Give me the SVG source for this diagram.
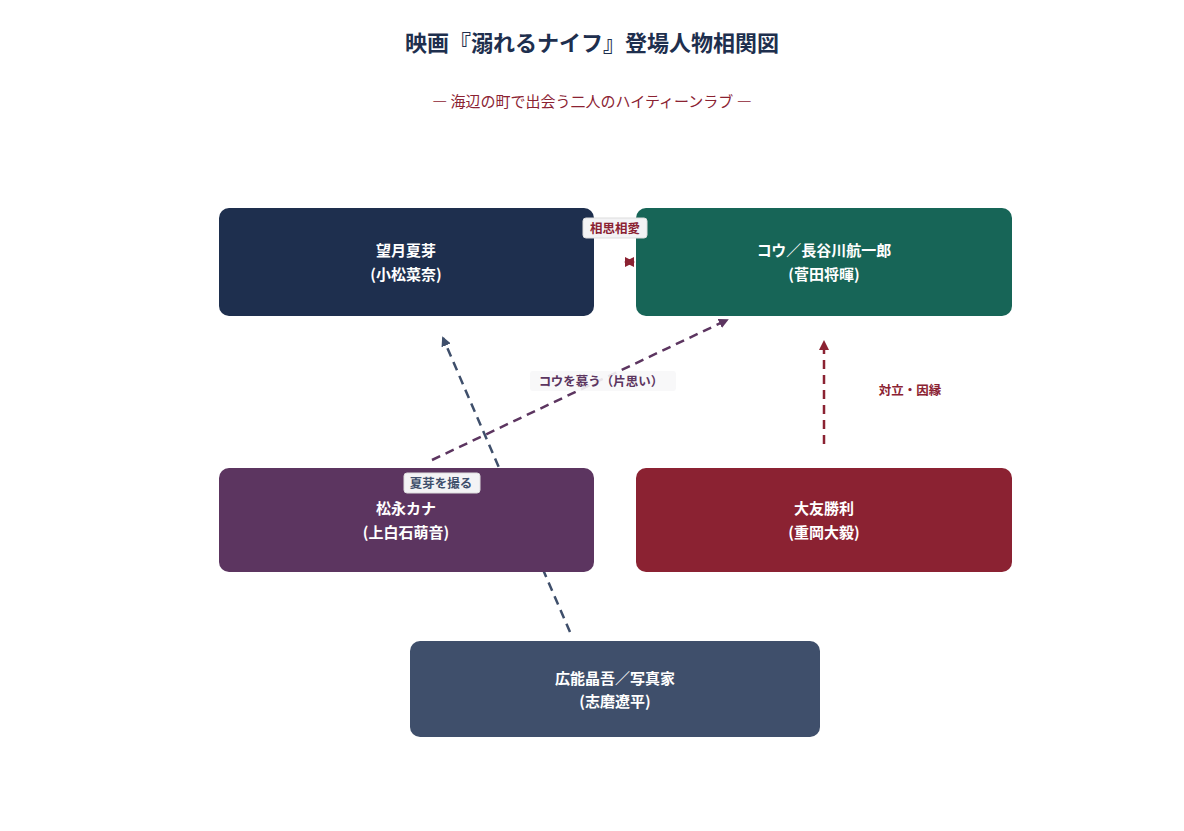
<svg xmlns="http://www.w3.org/2000/svg" width="1184" height="831" viewBox="0 0 1184 831">
<style>
text{font-family:"Noto Sans CJK JP","Noto Sans",sans-serif}
.t{font-size:22px;font-weight:bold;fill:#1e2f4e;text-anchor:middle}
.st{font-size:15px;fill:#8b2232;text-anchor:middle}
.n{font-size:15px;font-weight:bold;fill:#fff;text-anchor:middle}
.l{font-size:12.5px;font-weight:bold;text-anchor:middle}
.lb{fill:#f3f3f5;stroke:#ddd;stroke-width:1}
</style>
<defs>
<marker id="aN" viewBox="0 0 10 10" refX="8" refY="5" markerWidth="4" markerHeight="4" orient="auto-start-reverse"><path d="M0,0L10,5L0,10Z" fill="#3f4f6b"/></marker>
<marker id="aP" viewBox="0 0 10 10" refX="8" refY="5" markerWidth="4" markerHeight="4" orient="auto-start-reverse"><path d="M0,0L10,5L0,10Z" fill="#5c3560"/></marker>
<marker id="aR" viewBox="0 0 10 10" refX="8" refY="5" markerWidth="4" markerHeight="4" orient="auto-start-reverse"><path d="M0,0L10,5L0,10Z" fill="#8b2232"/></marker>
</defs>
<rect width="1184" height="831" fill="#fff"/>
<text class="t" x="592" y="51">映画『溺れるナイフ』登場人物相関図</text>
<text class="st" x="592" y="107">― 海辺の町で出会う二人のハイティーンラブ ―</text>
<g id="connectors" fill="none" stroke-width="2.5" stroke-dasharray="9,6">
<path d="M570,632L443,338" stroke="#3f4f6b" marker-end="url(#aN)"/>
<path d="M432,460L727,320" stroke="#5c3560" marker-end="url(#aP)"/>
<path d="M824,444L824,342" stroke="#8b2232" marker-end="url(#aR)"/>
<path d="M626,262L633,262" stroke="#8b2232" stroke-dasharray="none" marker-start="url(#aR)" marker-end="url(#aR)"/>
</g>
<g id="n1"><rect x="219" y="208" width="375" height="108" rx="10" fill="#1e2f4e"/><text class="n" x="406" y="256">望月夏芽</text><text class="n" x="406" y="280">(小松菜奈)</text></g>
<g id="n2"><rect x="636" y="208" width="376" height="108" rx="10" fill="#176557"/><text class="n" x="824" y="256">コウ／長谷川航一郎</text><text class="n" x="824" y="280">(菅田将暉)</text></g>
<g id="n3"><rect x="219" y="468" width="375" height="104" rx="10" fill="#5c3560"/><text class="n" x="406" y="514">松永カナ</text><text class="n" x="406" y="538">(上白石萌音)</text></g>
<g id="n4"><rect x="636" y="468" width="376" height="104" rx="10" fill="#8b2232"/><text class="n" x="824" y="514">大友勝利</text><text class="n" x="824" y="538">(重岡大毅)</text></g>
<g id="n5"><rect x="410" y="641" width="410" height="96" rx="10" fill="#3f4f6b"/><text class="n" x="615" y="684">広能晶吾／写真家</text><text class="n" x="615" y="707">(志磨遼平)</text></g>
<g id="labels">
<rect class="lb" x="583" y="218" width="64" height="20" rx="3"/><text class="l" x="615" y="233" fill="#8b2232">相思相愛</text>
<rect x="530" y="371" width="146" height="20" rx="3" fill="#f7f7f8" opacity="0.9"/><text class="l" x="601" y="386" fill="#5c3560">コウを慕う（片思い）</text>
<rect class="lb" x="404" y="473" width="76" height="20" rx="3"/><text class="l" x="441" y="488" fill="#3f4f6b">夏芽を撮る</text>
<text class="l" x="910" y="395" fill="#8b2232">対立・因縁</text>
</g>
</svg>
